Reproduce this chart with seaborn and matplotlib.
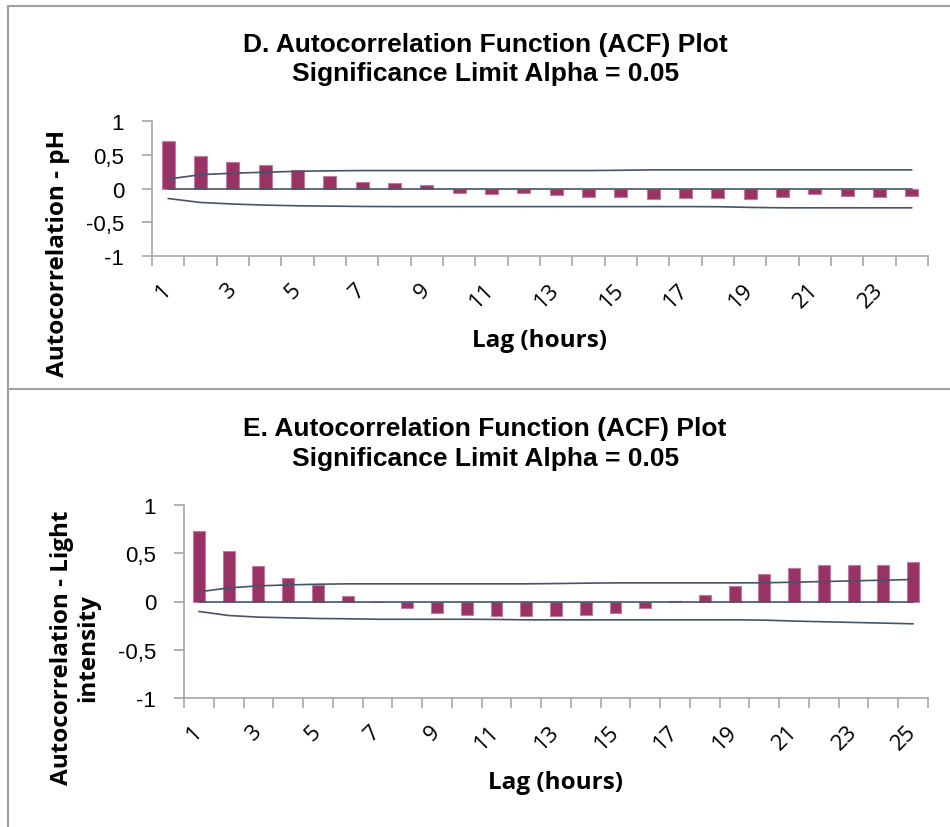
import numpy as np
import pandas as pd
import matplotlib
matplotlib.use("Agg")
import matplotlib.pyplot as plt
import seaborn as sns
from matplotlib.lines import Line2D

sns.set_theme(style="white")
plt.rcParams["font.family"] = ["Liberation Sans", "DejaVu Sans"]
plt.rcParams["text.color"] = "black"
plt.rcParams["xtick.color"] = "black"
plt.rcParams["ytick.color"] = "black"

# ---- D: pH autocorrelation ----
ph_lags = list(range(1, 25))
ph_acf = [0.70, 0.48, 0.40, 0.345, 0.28, 0.18, 0.10, 0.085, 0.045, -0.06,
          -0.08, -0.065, -0.10, -0.12, -0.13, -0.15, -0.14, -0.14, -0.15, -0.12,
          -0.08, -0.11, -0.12, -0.11]
ph_upper = [0.14, 0.205, 0.227, 0.241, 0.255, 0.262, 0.266, 0.266, 0.266, 0.266,
            0.266, 0.266, 0.266, 0.266, 0.27, 0.276, 0.276, 0.276, 0.276, 0.276,
            0.276, 0.276, 0.276, 0.276]
ph_lower = [-0.148, -0.207, -0.23, -0.246, -0.256, -0.261, -0.266, -0.268, -0.268, -0.268,
            -0.268, -0.268, -0.268, -0.268, -0.268, -0.268, -0.268, -0.27, -0.28, -0.286,
            -0.286, -0.286, -0.286, -0.286]

# ---- E: light intensity autocorrelation ----
light_lags = list(range(1, 26))
light_acf = [0.73, 0.52, 0.37, 0.245, 0.175, 0.06, -0.01, -0.07, -0.117, -0.138,
             -0.15, -0.15, -0.15, -0.138, -0.114, -0.072, 0.005, 0.072, 0.159, 0.29,
             0.35, 0.383, 0.383, 0.383, 0.41]
light_upper = [0.10, 0.141, 0.162, 0.172, 0.179, 0.183, 0.183, 0.183, 0.183, 0.183,
               0.183, 0.183, 0.186, 0.19, 0.193, 0.193, 0.193, 0.193, 0.193, 0.194,
               0.20, 0.207, 0.214, 0.221, 0.228]
light_lower = [-0.103, -0.145, -0.162, -0.169, -0.176, -0.179, -0.184, -0.184, -0.184, -0.184,
               -0.186, -0.19, -0.19, -0.19, -0.19, -0.19, -0.19, -0.19, -0.19, -0.193,
               -0.203, -0.21, -0.217, -0.224, -0.231]

y_ticks = [-1, -0.5, 0, 0.5, 1]
y_tick_labels = ["-1", "-0,5", "0", "0,5", "1"]

BAR = "#993366"
BAR_EDGE = "#c27ba0"
LIMIT = "#44546a"
AXIS = "#a6a6a6"
FRAME = "#a0a0a0"

W, H = 950, 828
fig = plt.figure(figsize=(W / 100, H / 100), dpi=100)


def px_axes(left, top, right, bottom):
    return fig.add_axes([left / W, 1 - bottom / H, (right - left) / W, (bottom - top) / H])


def fig_text(x, y, s, **kw):
    fig.text(x / W, 1 - y / H, s, **kw)


def draw_acf(ax, lags, acf, upper, lower):
    n = len(lags)
    df = pd.DataFrame({"lag": lags, "acf": acf})
    sns.barplot(data=df, x="lag", y="acf", ax=ax, color=BAR, width=0.4,
                saturation=1, edgecolor=BAR_EDGE, linewidth=0.8)
    pos = np.arange(n)
    zero = [0.0] * n
    for series in (upper, zero, lower):
        sns.lineplot(x=pos, y=series, ax=ax, color=LIMIT, lw=1.2, sort=False)

    ax.set_xlim(-0.5, n - 0.5)
    ax.set_ylim(-1, 1)
    ax.set_yticks(y_ticks)
    ax.set_yticklabels(y_tick_labels, fontsize=16)
    ax.set_xticks(np.arange(n + 1) - 0.5)
    ax.set_xticklabels([])
    odd = [i for i, lag in enumerate(lags) if lag % 2 == 1]
    ax.set_xticks(odd, minor=True)
    ax.set_xticklabels([str(lags[i]) for i in odd], minor=True, rotation=45,
                       ha="right", va="center", rotation_mode="anchor",
                       fontfamily="Open Sans", fontsize=16)
    ax.tick_params(axis="x", which="major", bottom=True, length=7, width=1.2,
                   color=AXIS, direction="out")
    ax.tick_params(axis="x", which="minor", bottom=True, length=0, pad=22)
    ax.tick_params(axis="y", which="major", left=True, length=7, width=1.2,
                   color=AXIS, direction="out", pad=13)
    for side in ("top", "right"):
        ax.spines[side].set_visible(False)
    for side in ("left", "bottom"):
        ax.spines[side].set_color(AXIS)
        ax.spines[side].set_linewidth(1.2)
    ax.set_xlabel("")
    ax.set_ylabel("")
    ax.set_facecolor("none")


# panel D
ax_d = px_axes(152, 122, 928, 257)
draw_acf(ax_d, ph_lags, ph_acf, ph_upper, ph_lower)
title_kw = dict(ha="center", va="baseline", fontsize=19, fontweight="bold",
                family=["Liberation Sans", "DejaVu Sans"])
fig_text(485, 52, "D. Autocorrelation Function (ACF) Plot", **title_kw)
fig_text(486, 81, "Significance Limit Alpha = 0.05", **title_kw)
label_kw = dict(ha="center", va="center", fontsize=17.5, fontweight="bold",
                family=["Open Sans", "DejaVu Sans"])
fig_text(58, 253, "Autocorrelation - pH", rotation=90, **label_kw)
fig_text(540, 341, "Lag (hours)", **label_kw)

# panel E
ax_e = px_axes(184, 506, 928, 699)
draw_acf(ax_e, light_lags, light_acf, light_upper, light_lower)
fig_text(485, 436, "E. Autocorrelation Function (ACF) Plot", **title_kw)
fig_text(486, 466, "Significance Limit Alpha = 0.05", **title_kw)
fig_text(75, 648, "Autocorrelation - Light\nintensity", rotation=90,
         multialignment="center", linespacing=1.15, **label_kw)
fig_text(556, 783, "Lag (hours)", **label_kw)

# outer frame and panel separator
for (x0, y0, x1, y1) in [(8, 7, W, 7), (8, 7, 8, H), (8, 390, W, 390)]:
    fig.add_artist(Line2D([x0 / W, x1 / W], [1 - y0 / H, 1 - y1 / H],
                          transform=fig.transFigure, color=FRAME, lw=1.5))

fig.savefig("out.png", dpi=100, facecolor="white")
